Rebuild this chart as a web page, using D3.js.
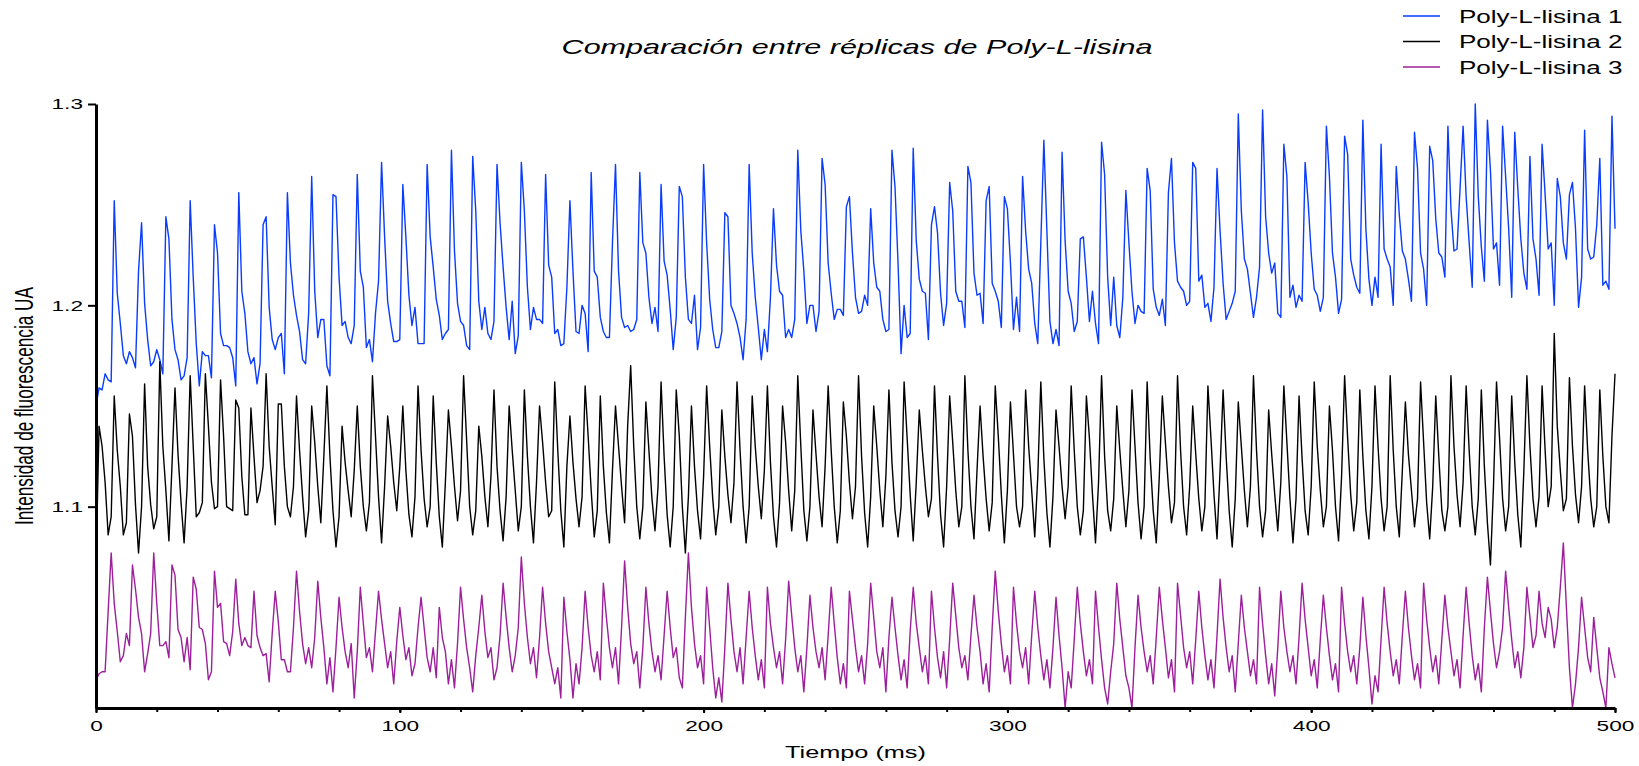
<!DOCTYPE html>
<html>
<head>
<meta charset="utf-8">
<script src="https://cdn.jsdelivr.net/npm/d3@7"></script>
<style>
  body { margin: 0; background: #fff; }
  svg { display: block; font-family: "Liberation Sans", Arial, sans-serif; }
</style>
</head>
<body>
<svg width="1639" height="766"></svg>
<script>
// one reading per ms, 0..500
var replica1 = [
  1.150, 1.159, 1.158, 1.166, 1.163, 1.162, 1.252,
  1.206, 1.191, 1.175, 1.171, 1.177, 1.174, 1.169, 1.217, 1.241,
  1.201, 1.183, 1.170, 1.172, 1.178, 1.173, 1.166, 1.244,
  1.233, 1.193, 1.178, 1.173, 1.163, 1.165, 1.174, 1.252,
  1.214, 1.181, 1.160, 1.177, 1.175, 1.175, 1.164, 1.240,
  1.226, 1.186, 1.180, 1.180, 1.179, 1.174, 1.160, 1.256,
  1.207, 1.196, 1.177, 1.171, 1.174, 1.161, 1.171, 1.240, 1.244,
  1.199, 1.183, 1.178, 1.184, 1.186, 1.166, 1.256,
  1.221, 1.205, 1.195, 1.187, 1.173, 1.171, 1.196, 1.264,
  1.207, 1.184, 1.193, 1.193, 1.170, 1.165, 1.255, 1.254,
  1.214, 1.190, 1.192, 1.184, 1.181, 1.190, 1.265,
  1.217, 1.209, 1.179, 1.183, 1.172, 1.196, 1.212, 1.271,
  1.234, 1.202, 1.191, 1.182, 1.182, 1.183, 1.260,
  1.234, 1.205, 1.190, 1.199, 1.181, 1.181, 1.181, 1.270,
  1.234, 1.219, 1.203, 1.195, 1.183, 1.186, 1.188, 1.277,
  1.227, 1.201, 1.192, 1.190, 1.180, 1.178, 1.274,
  1.247, 1.202, 1.188, 1.199, 1.186, 1.183, 1.192, 1.270,
  1.241, 1.219, 1.199, 1.183, 1.202, 1.176, 1.185, 1.271,
  1.247, 1.209, 1.188, 1.199, 1.193, 1.193, 1.191, 1.265,
  1.220, 1.214, 1.186, 1.188, 1.180, 1.181, 1.209, 1.252,
  1.217, 1.187, 1.186, 1.200, 1.196, 1.177, 1.266,
  1.217, 1.214, 1.194, 1.187, 1.184, 1.184, 1.231, 1.270,
  1.217, 1.194, 1.189, 1.190, 1.187, 1.188, 1.193, 1.266,
  1.231, 1.226, 1.204, 1.191, 1.199, 1.187, 1.260,
  1.222, 1.215, 1.198, 1.178, 1.194, 1.259,
  1.254, 1.214, 1.193, 1.191, 1.205, 1.178, 1.189, 1.270,
  1.231, 1.203, 1.188, 1.179, 1.179, 1.187, 1.246, 1.244,
  1.200, 1.196, 1.191, 1.184, 1.173, 1.193, 1.270,
  1.226, 1.204, 1.189, 1.173, 1.188, 1.177, 1.204, 1.248,
  1.220, 1.207, 1.205, 1.184, 1.188, 1.184, 1.193, 1.277,
  1.237, 1.217, 1.191, 1.200, 1.200, 1.187, 1.197, 1.273,
  1.260, 1.221, 1.206, 1.193, 1.198, 1.198, 1.195, 1.249, 1.254,
  1.226, 1.204, 1.196, 1.197, 1.205, 1.200, 1.248,
  1.221, 1.209, 1.207, 1.193, 1.187, 1.188, 1.277,
  1.259, 1.221, 1.176, 1.200, 1.184, 1.186, 1.278,
  1.232, 1.213, 1.207, 1.206, 1.183, 1.240, 1.249,
  1.236, 1.206, 1.190, 1.201, 1.261,
  1.247, 1.207, 1.202, 1.202, 1.189, 1.269,
  1.261, 1.216, 1.205, 1.206, 1.191, 1.252, 1.259,
  1.211, 1.207, 1.202, 1.189, 1.254, 1.248,
  1.221, 1.188, 1.204, 1.187, 1.264,
  1.237, 1.218, 1.211, 1.191, 1.181, 1.231, 1.282,
  1.237, 1.192, 1.181, 1.188, 1.180, 1.276,
  1.232, 1.207, 1.201, 1.187, 1.192, 1.233, 1.234,
  1.214, 1.192, 1.207, 1.191, 1.181, 1.281, 1.265,
  1.214, 1.190, 1.214, 1.190, 1.184, 1.204, 1.257,
  1.231, 1.207, 1.191, 1.200, 1.197, 1.196, 1.268,
  1.257, 1.208, 1.199, 1.195, 1.203, 1.190, 1.256, 1.273,
  1.231, 1.212, 1.209, 1.207, 1.200, 1.202, 1.271,
  1.268, 1.212, 1.215, 1.199, 1.201, 1.192, 1.209, 1.268,
  1.237, 1.211, 1.193, 1.197, 1.201, 1.207, 1.295,
  1.247, 1.223, 1.218, 1.206, 1.194, 1.204, 1.219, 1.297,
  1.244, 1.226, 1.216, 1.221, 1.196, 1.194, 1.280,
  1.264, 1.204, 1.210, 1.199, 1.205, 1.202, 1.271,
  1.251, 1.226, 1.208, 1.205, 1.197, 1.204, 1.289,
  1.264, 1.226, 1.214, 1.196, 1.203, 1.284,
  1.275, 1.223, 1.215, 1.209, 1.206, 1.292,
  1.238, 1.213, 1.200, 1.214, 1.204, 1.280,
  1.228, 1.223, 1.219, 1.200, 1.269,
  1.245, 1.227, 1.223, 1.213, 1.202, 1.286,
  1.268, 1.226, 1.218, 1.200, 1.279, 1.272,
  1.243, 1.226, 1.224, 1.214, 1.289,
  1.248, 1.227, 1.228, 1.258, 1.289,
  1.254, 1.231, 1.209, 1.300,
  1.254, 1.229, 1.212, 1.292,
  1.267, 1.228, 1.231, 1.210, 1.289,
  1.264, 1.238, 1.204, 1.286,
  1.258, 1.233, 1.216, 1.208, 1.274,
  1.233, 1.223, 1.205, 1.280,
  1.255, 1.228, 1.231, 1.200, 1.263,
  1.254, 1.231, 1.223, 1.255, 1.261,
  1.238, 1.199, 1.214, 1.287,
  1.228, 1.223, 1.224, 1.240, 1.273,
  1.210, 1.212, 1.208, 1.294, 1.238
];

var replica2 = [
  1.070, 1.140, 1.130, 1.112, 1.086, 1.095, 1.155, 1.128, 1.110, 1.086,
  1.092, 1.146, 1.135, 1.101, 1.077, 1.100, 1.161, 1.120, 1.101, 1.089,
  1.095, 1.172, 1.130, 1.108, 1.083, 1.120, 1.159, 1.126, 1.102, 1.082,
  1.110, 1.165, 1.130, 1.095, 1.097, 1.102, 1.166, 1.140, 1.112, 1.099,
  1.100, 1.163, 1.135, 1.100, 1.099, 1.098, 1.153, 1.149, 1.115, 1.096,
  1.096, 1.149, 1.125, 1.102, 1.108, 1.120, 1.166, 1.130, 1.110, 1.091,
  1.151, 1.151, 1.120, 1.100, 1.095,
  1.110, 1.155, 1.128, 1.105, 1.085,   1.098, 1.150, 1.132, 1.110, 1.092,
  1.125, 1.160, 1.125, 1.098, 1.080,   1.095, 1.140, 1.122, 1.108, 1.095,
  1.118, 1.150, 1.120, 1.100, 1.088,   1.102, 1.165, 1.135, 1.105, 1.082,
  1.110, 1.145, 1.130, 1.112, 1.098,   1.120, 1.150, 1.118, 1.096, 1.085,
  1.105, 1.160, 1.128, 1.104, 1.090,   1.100, 1.155, 1.122, 1.095, 1.080,
  1.112, 1.148, 1.130, 1.110, 1.093,   1.108, 1.165, 1.133, 1.100, 1.086,
  1.098, 1.140, 1.125, 1.105, 1.090,   1.115, 1.158, 1.120, 1.098, 1.083,
  1.105, 1.150, 1.128, 1.108, 1.088,   1.100, 1.158, 1.125, 1.100, 1.082,
  1.112, 1.150, 1.132, 1.112, 1.095,   1.098, 1.162, 1.128, 1.098, 1.080,
  1.120, 1.145, 1.122, 1.104, 1.090,   1.105, 1.160, 1.135, 1.108, 1.085,
  1.098, 1.155, 1.120, 1.097, 1.082,   1.118, 1.150, 1.130, 1.110, 1.092,
  1.140, 1.170, 1.130, 1.100, 1.084,   1.100, 1.152, 1.128, 1.104, 1.088,
  1.110, 1.162, 1.125, 1.096, 1.080,   1.100, 1.158, 1.135, 1.100, 1.077,
  1.105, 1.150, 1.120, 1.098, 1.084,   1.115, 1.160, 1.130, 1.104, 1.086,
  1.100, 1.148, 1.125, 1.106, 1.092,   1.112, 1.162, 1.128, 1.100, 1.082,
  1.100, 1.155, 1.130, 1.110, 1.094,   1.118, 1.160, 1.122, 1.095, 1.080,
  1.102, 1.150, 1.132, 1.108, 1.088,   1.108, 1.165, 1.130, 1.098, 1.083,
  1.100, 1.148, 1.126, 1.105, 1.090,   1.120, 1.160, 1.128, 1.100, 1.082,
  1.098, 1.152, 1.135, 1.112, 1.094,   1.110, 1.165, 1.125, 1.097, 1.080,
  1.105, 1.150, 1.130, 1.108, 1.090,   1.115, 1.158, 1.122, 1.098, 1.085,
  1.100, 1.162, 1.134, 1.106, 1.083,   1.112, 1.148, 1.128, 1.110, 1.095,
  1.104, 1.160, 1.125, 1.096, 1.080,   1.110, 1.155, 1.132, 1.108, 1.090,
  1.100, 1.165, 1.128, 1.100, 1.084,   1.118, 1.150, 1.125, 1.104, 1.088,
  1.102, 1.160, 1.135, 1.106, 1.082,   1.108, 1.152, 1.126, 1.100, 1.090,
  1.100, 1.158, 1.130, 1.108, 1.085,   1.115, 1.162, 1.124, 1.097, 1.080,
  1.105, 1.148, 1.130, 1.110, 1.094,   1.110, 1.160, 1.128, 1.100, 1.086,
  1.098, 1.155, 1.134, 1.106, 1.082,   1.112, 1.165, 1.125, 1.098, 1.088,
  1.104, 1.150, 1.128, 1.108, 1.090,   1.108, 1.158, 1.130, 1.102, 1.084,
  1.100, 1.162, 1.124, 1.098, 1.082,   1.115, 1.155, 1.132, 1.110, 1.092,
  1.102, 1.165, 1.128, 1.100, 1.086,   1.110, 1.150, 1.126, 1.104, 1.088,
  1.100, 1.160, 1.134, 1.106, 1.084,   1.118, 1.158, 1.125, 1.098, 1.080,
  1.104, 1.152, 1.130, 1.108, 1.090,   1.110, 1.165, 1.128, 1.100, 1.085,
  1.098, 1.148, 1.126, 1.106, 1.088,   1.112, 1.160, 1.132, 1.104, 1.082,
  1.104, 1.155, 1.124, 1.098, 1.086,   1.110, 1.162, 1.130, 1.108, 1.090,
  1.100, 1.150, 1.128, 1.100, 1.083,   1.115, 1.165, 1.134, 1.106, 1.088,
  1.102, 1.158, 1.125, 1.098, 1.084,   1.110, 1.160, 1.130, 1.104, 1.088,
  1.100, 1.165, 1.128, 1.100, 1.085,   1.118, 1.152, 1.126, 1.108, 1.090,
  1.104, 1.162, 1.132, 1.102, 1.084,   1.110, 1.155, 1.125, 1.098, 1.088,
  1.100, 1.165, 1.130, 1.106, 1.090,   1.112, 1.160, 1.128, 1.100, 1.086,
  1.104, 1.158, 1.120, 1.092, 1.071,   1.110, 1.162, 1.134, 1.104, 1.088,
  1.100, 1.155, 1.122, 1.096, 1.080,   1.118, 1.165, 1.130, 1.104, 1.090,
  1.105, 1.160, 1.128, 1.100, 1.110,   1.186, 1.140, 1.118, 1.098, 1.104,
  1.164, 1.130, 1.106, 1.092, 1.110,   1.160, 1.128, 1.104, 1.090, 1.100,
  1.158, 1.125, 1.100, 1.092, 1.135,   1.166
];

var replica3 = [
  1.014, 1.017, 1.018, 1.018, 1.048, 1.077, 1.052, 1.038, 1.023, 1.026,
  1.037, 1.031, 1.071, 1.059, 1.045, 1.037, 1.018, 1.027, 1.037, 1.077,
  1.052, 1.031, 1.031, 1.033, 1.025, 1.071, 1.066, 1.039, 1.035, 1.023,
  1.035, 1.019, 1.065, 1.059, 1.040, 1.039, 1.032, 1.014, 1.018, 1.068,
  1.050, 1.052, 1.033, 1.032, 1.026, 1.038, 1.064, 1.042, 1.031, 1.035,
  1.031, 1.030, 1.058, 1.036, 1.030, 1.026, 1.027, 1.013, 1.037, 1.058,
  1.043, 1.024, 1.024, 1.018, 1.018,
  1.040,
  1.068, 1.048, 1.032, 1.022, 1.030, 1.020, 1.035,
  1.063, 1.045, 1.030, 1.012, 1.025, 1.008, 1.030,
  1.055, 1.040, 1.028, 1.020, 1.032, 1.005, 1.028,
  1.060, 1.042, 1.025, 1.030, 1.018, 1.038,
  1.058, 1.044, 1.032, 1.020, 1.028, 1.012, 1.033,
  1.050, 1.036, 1.024, 1.030, 1.016, 1.022, 1.040,
  1.055, 1.040, 1.025, 1.018, 1.030, 1.015,
  1.050, 1.035, 1.028, 1.012, 1.024, 1.010, 1.032,
  1.060, 1.044, 1.030, 1.020, 1.008, 1.026, 1.040,
  1.056, 1.038, 1.025, 1.030, 1.014, 1.020, 1.036,
  1.062, 1.045, 1.030, 1.018, 1.026, 1.040,
  1.075, 1.052, 1.035, 1.022, 1.030, 1.015, 1.035,
  1.060, 1.042, 1.028, 1.020, 1.012, 1.020, 1.005,
  1.055, 1.038, 1.024, 1.005, 1.022, 1.012, 1.030,
  1.058, 1.040, 1.026, 1.018, 1.028, 1.014,
  1.062, 1.045, 1.030, 1.020, 1.030, 1.012, 1.040,
  1.073, 1.050, 1.032, 1.022, 1.028, 1.010, 1.030,
  1.060, 1.042, 1.028, 1.018, 1.026, 1.014, 1.036,
  1.058, 1.040, 1.025, 1.030, 1.015, 1.010, 1.045,
  1.077, 1.050, 1.032, 1.020, 1.026, 1.012,
  1.060, 1.040, 1.020, 1.005, 1.015, 1.003, 1.030,
  1.062, 1.044, 1.028, 1.018, 1.030, 1.012, 1.035,
  1.058, 1.040, 1.026, 1.014, 1.024, 1.010,
  1.060, 1.042, 1.030, 1.020, 1.028, 1.012, 1.034,
  1.063, 1.046, 1.030, 1.018, 1.026, 1.008, 1.030,
  1.056, 1.040, 1.028, 1.020, 1.030, 1.014, 1.036,
  1.060, 1.042, 1.025, 1.012, 1.022, 1.010,
  1.058, 1.044, 1.030, 1.018, 1.026, 1.012, 1.032,
  1.062, 1.045, 1.028, 1.020, 1.030, 1.008, 1.035,
  1.055, 1.040, 1.026, 1.014, 1.024, 1.010, 1.038,
  1.060, 1.042, 1.030, 1.018, 1.026, 1.012,
  1.058, 1.040, 1.025, 1.015, 1.028, 1.010, 1.034,
  1.062, 1.046, 1.030, 1.020, 1.026, 1.014, 1.036,
  1.056, 1.040, 1.028, 1.012, 1.022, 1.008, 1.040,
  1.068, 1.048, 1.032, 1.018, 1.026, 1.012,
  1.060, 1.042, 1.028, 1.020, 1.030, 1.012, 1.036,
  1.058, 1.040, 1.026, 1.014, 1.024, 1.010, 1.030,
  1.055, 1.036, 1.020, 1.000, 1.018, 1.010, 1.034,
  1.060, 1.042, 1.028, 1.016, 1.024, 1.012,
  1.058, 1.040, 1.024, 1.010, 1.002, 1.018, 1.032,
  1.062, 1.044, 1.030, 1.016, 1.010, 1.000, 1.030,
  1.056, 1.040, 1.028, 1.018, 1.026, 1.012, 1.035,
  1.060, 1.044, 1.030, 1.015, 1.024, 1.008,
  1.062, 1.046, 1.030, 1.020, 1.028, 1.012, 1.034,
  1.058, 1.040, 1.026, 1.014, 1.024, 1.010, 1.036,
  1.064, 1.045, 1.030, 1.018, 1.026, 1.008, 1.032,
  1.056, 1.040, 1.028, 1.016, 1.024, 1.012,
  1.060, 1.042, 1.026, 1.012, 1.022, 1.006, 1.030,
  1.058, 1.040, 1.028, 1.018, 1.026, 1.012, 1.035,
  1.062, 1.044, 1.030, 1.016, 1.024, 1.010, 1.034,
  1.056, 1.040, 1.026, 1.014, 1.022, 1.008,
  1.060, 1.042, 1.028, 1.018, 1.026, 1.012, 1.030,
  1.055, 1.036, 1.020, 1.002, 1.016, 1.008, 1.034,
  1.060, 1.042, 1.028, 1.016, 1.024, 1.012, 1.036,
  1.058, 1.040, 1.026, 1.014, 1.022, 1.010,
  1.062, 1.044, 1.030, 1.018, 1.026, 1.012, 1.034,
  1.056, 1.040, 1.028, 1.016, 1.024, 1.010, 1.036,
  1.060, 1.042, 1.026, 1.014, 1.022, 1.008, 1.040,
  1.065, 1.048, 1.032, 1.020, 1.028, 1.040,
  1.068, 1.050, 1.034, 1.020, 1.028, 1.015, 1.030,
  1.060, 1.045, 1.030, 1.036, 1.058, 1.042,
  1.035, 1.050, 1.044, 1.030, 1.040, 1.060, 1.082,
  1.050, 1.020, 1.000, 1.012, 1.030, 1.055, 1.040,
  1.025, 1.018, 1.045, 1.030, 1.015, 1.008, 1.000,
  1.030, 1.022, 1.015
];

var seriesNames = ["Poly-L-lisina 1", "Poly-L-lisina 2", "Poly-L-lisina 3"];
var seriesColors = ["#0a3cff", "#000000", "#9c1f9c"];
var xLabelTicks = [0, 100, 200, 300, 400, 500];
var xMinorTicks = d3.range(0, 501, 20);
var yLabelTicks = [1.1, 1.2, 1.3];

(function() {

    "use strict";

    var svg = d3.select("svg");
    var margin = {top: 104, right: 24, bottom: 58, left: 96};
    var width = +svg.attr("width") - margin.left - margin.right;
    var height = +svg.attr("height") - margin.top - margin.bottom;

    // the original picture is stretched sideways, text included
    var stretch = 1.47;

    var x = d3.scaleLinear().domain([0, 500]).range([0, width]);
    var y = d3.scaleLinear().domain([1.0, 1.3]).range([height, 0]);

    var g = svg.append("g").attr("transform", "translate(" + margin.left + "," + margin.top + ")");

    var widen = function(sel) {
        sel.each(function() {
            var t = d3.select(this);
            var tx = +t.attr("x") || 0;
            t.attr("x", tx / stretch).attr("transform", "scale(" + stretch + ",1)");
        });
    };

    // series
    var line = d3.line()
        .x(function(d, i) { return x(i); })
        .y(function(d) { return y(d); });

    var series = [replica1, replica2, replica3];

    g.selectAll(".serie")
        .data(series)
        .enter().append("path")
        .attr("class", "serie")
        .attr("fill", "none")
        .attr("stroke", function(d, i) { return seriesColors[i]; })
        .attr("stroke-width", 1.4)
        .attr("stroke-linejoin", "round")
        .attr("d", line);

    // x axis: minor ticks then labelled ones
    g.append("g")
        .attr("transform", "translate(0," + height + ")")
        .call(d3.axisBottom(x).tickValues(xMinorTicks).tickSize(4).tickFormat(""))
        .call(function(a) { a.select(".domain").remove(); })
        .selectAll("line").attr("stroke-width", 2);

    var xAxis = g.append("g")
        .attr("transform", "translate(0," + height + ")")
        .call(d3.axisBottom(x).tickValues(xLabelTicks).tickSize(5).tickSizeOuter(0).tickPadding(7));
    xAxis.select(".domain").attr("stroke-width", 3);
    xAxis.selectAll("line").attr("stroke-width", 2);
    xAxis.selectAll("text")
        .attr("font-size", 15.4)
        .attr("font-family", "Liberation Sans, Arial, sans-serif")
        .attr("fill", "#000")
        .call(widen);

    var yAxis = g.append("g")
        .call(d3.axisLeft(y).tickValues(yLabelTicks).tickSize(8).tickSizeOuter(0).tickPadding(5)
            .tickFormat(d3.format(".1f")));
    yAxis.select(".domain").attr("stroke-width", 3);
    yAxis.selectAll("line").attr("stroke-width", 2);
    yAxis.selectAll("text")
        .attr("font-size", 15.4)
        .attr("font-family", "Liberation Sans, Arial, sans-serif")
        .attr("fill", "#000")
        .call(widen);

    // titles
    svg.append("text")
        .attr("transform", "translate(857,54) scale(" + stretch + ",1)")
        .attr("text-anchor", "middle")
        .attr("font-size", 20.8)
        .attr("font-style", "italic")
        .text("Comparación entre réplicas de Poly-L-lisina");

    svg.append("text")
        .attr("transform", "translate(" + (margin.left + width / 2) + ",758) scale(" + stretch + ",1)")
        .attr("text-anchor", "middle")
        .attr("font-size", 17.2)
        .text("Tiempo (ms)");

    svg.append("text")
        .attr("transform", "translate(33," + (margin.top + height / 2) + ") scale(" + stretch + ",1) rotate(-90)")
        .attr("text-anchor", "middle")
        .attr("font-size", 17.2)
        .text("Intensidad de fluorescencia UA");

    // legend
    var legend = svg.selectAll(".legend")
        .data(seriesNames)
        .enter().append("g")
        .attr("class", "legend")
        .attr("transform", function(d, i) { return "translate(1403," + (16 + i * 25.5) + ")"; });

    legend.append("line")
        .attr("x1", 0).attr("x2", 37)
        .attr("stroke", function(d, i) { return seriesColors[i]; })
        .attr("stroke-width", 1.4);

    legend.append("text")
        .attr("transform", "translate(56,6.5) scale(" + stretch + ",1)")
        .attr("font-size", 17.7)
        .text(function(d) { return d; });

}());
</script>
</body>
</html>
